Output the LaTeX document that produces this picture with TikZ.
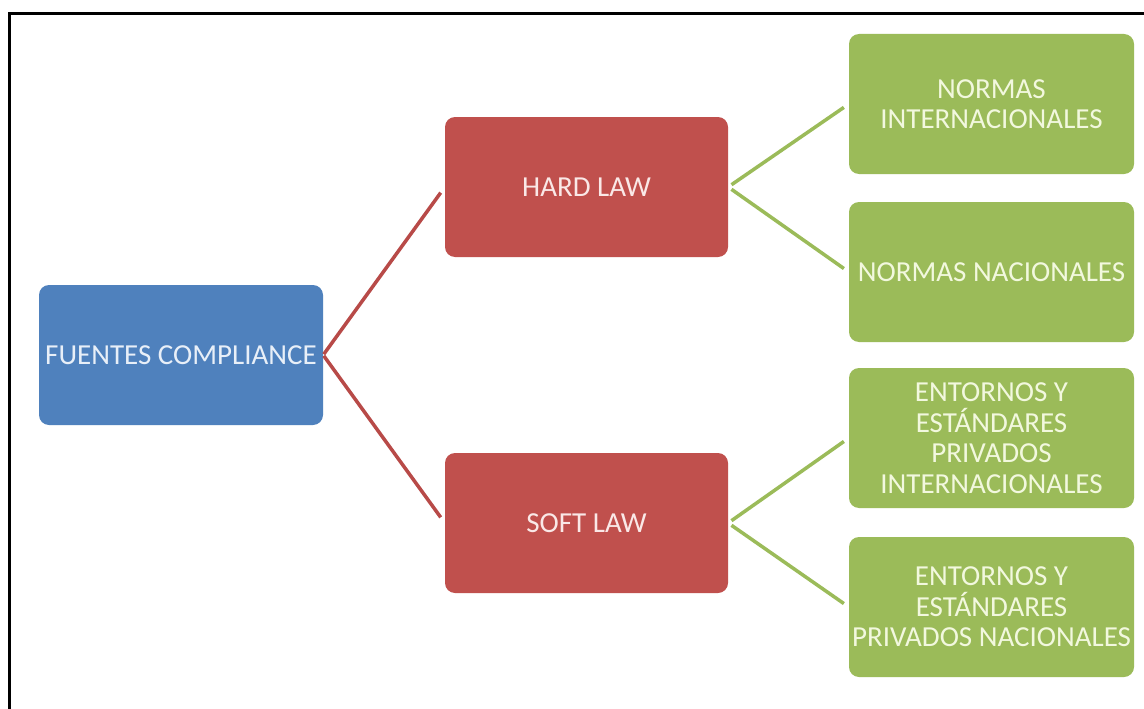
\documentclass[tikz,border=0pt]{standalone}
\usepackage{fontspec}
\setmainfont{Carlito}
\definecolor{cblue}{HTML}{4F81BD}
\definecolor{cred}{HTML}{C0504D}
\definecolor{cgreen}{HTML}{9BBB59}
\definecolor{credline}{HTML}{B84A48}
\definecolor{tblue}{HTML}{E8EFF8}
\definecolor{tred}{HTML}{FAE8E7}
\definecolor{tgreen}{HTML}{F2F8DE}
\begin{document}
\begin{tikzpicture}[x=1pt,y=-1pt,
  box/.style={rectangle, rounded corners=10pt, inner sep=0pt, minimum height=140pt,
    align=center, font=\fontsize{29}{30.5}\selectfont},
  rootbox/.style={box, fill=cblue, text=tblue, minimum width=284pt},
  midbox/.style={box, fill=cred, text=tred, minimum width=283pt},
  leafbox/.style={box, fill=cgreen, text=tgreen, minimum width=285pt},
  redlink/.style={draw=credline, line width=3.5pt},
  greenlink/.style={draw=cgreen, line width=3.5pt}]
\useasboundingbox (0,0) rectangle (1144,709);
\fill[white] (0,0) rectangle (1144,709);
\draw[line width=3pt] (9,712) -- (9,14) -- (1147,14);

\node[rootbox] (root) at (181,355) {FUENTES COMPLIANCE};
\node[midbox] (hard) at (586.5,187) {HARD LAW};
\node[midbox] (soft) at (586.5,523) {SOFT LAW};
\node[leafbox] (l1) at (991.5,104) {NORMAS\\INTERNACIONALES};
\node[leafbox] (l2) at (991.5,272) {NORMAS NACIONALES};
\node[leafbox] (l3) at (991.5,438) {ENTORNOS Y\\ESTÁNDARES\\PRIVADOS\\INTERNACIONALES};
\node[leafbox] (l4) at (991.5,607) {ENTORNOS Y\\ESTÁNDARES\\PRIVADOS NACIONALES};

\draw[redlink, shorten <=1pt, shorten >=7pt] (root.east) -- (hard.west);
\draw[redlink, shorten <=1pt, shorten >=7pt] (root.east) -- (soft.west);
\draw[greenlink, shorten <=4pt, shorten >=6pt] (hard.east) -- (l1.west);
\draw[greenlink, shorten <=4pt, shorten >=6pt] (hard.east) -- (l2.west);
\draw[greenlink, shorten <=4pt, shorten >=6pt] (soft.east) -- (l3.west);
\draw[greenlink, shorten <=4pt, shorten >=6pt] (soft.east) -- (l4.west);
\end{tikzpicture}
\end{document}
